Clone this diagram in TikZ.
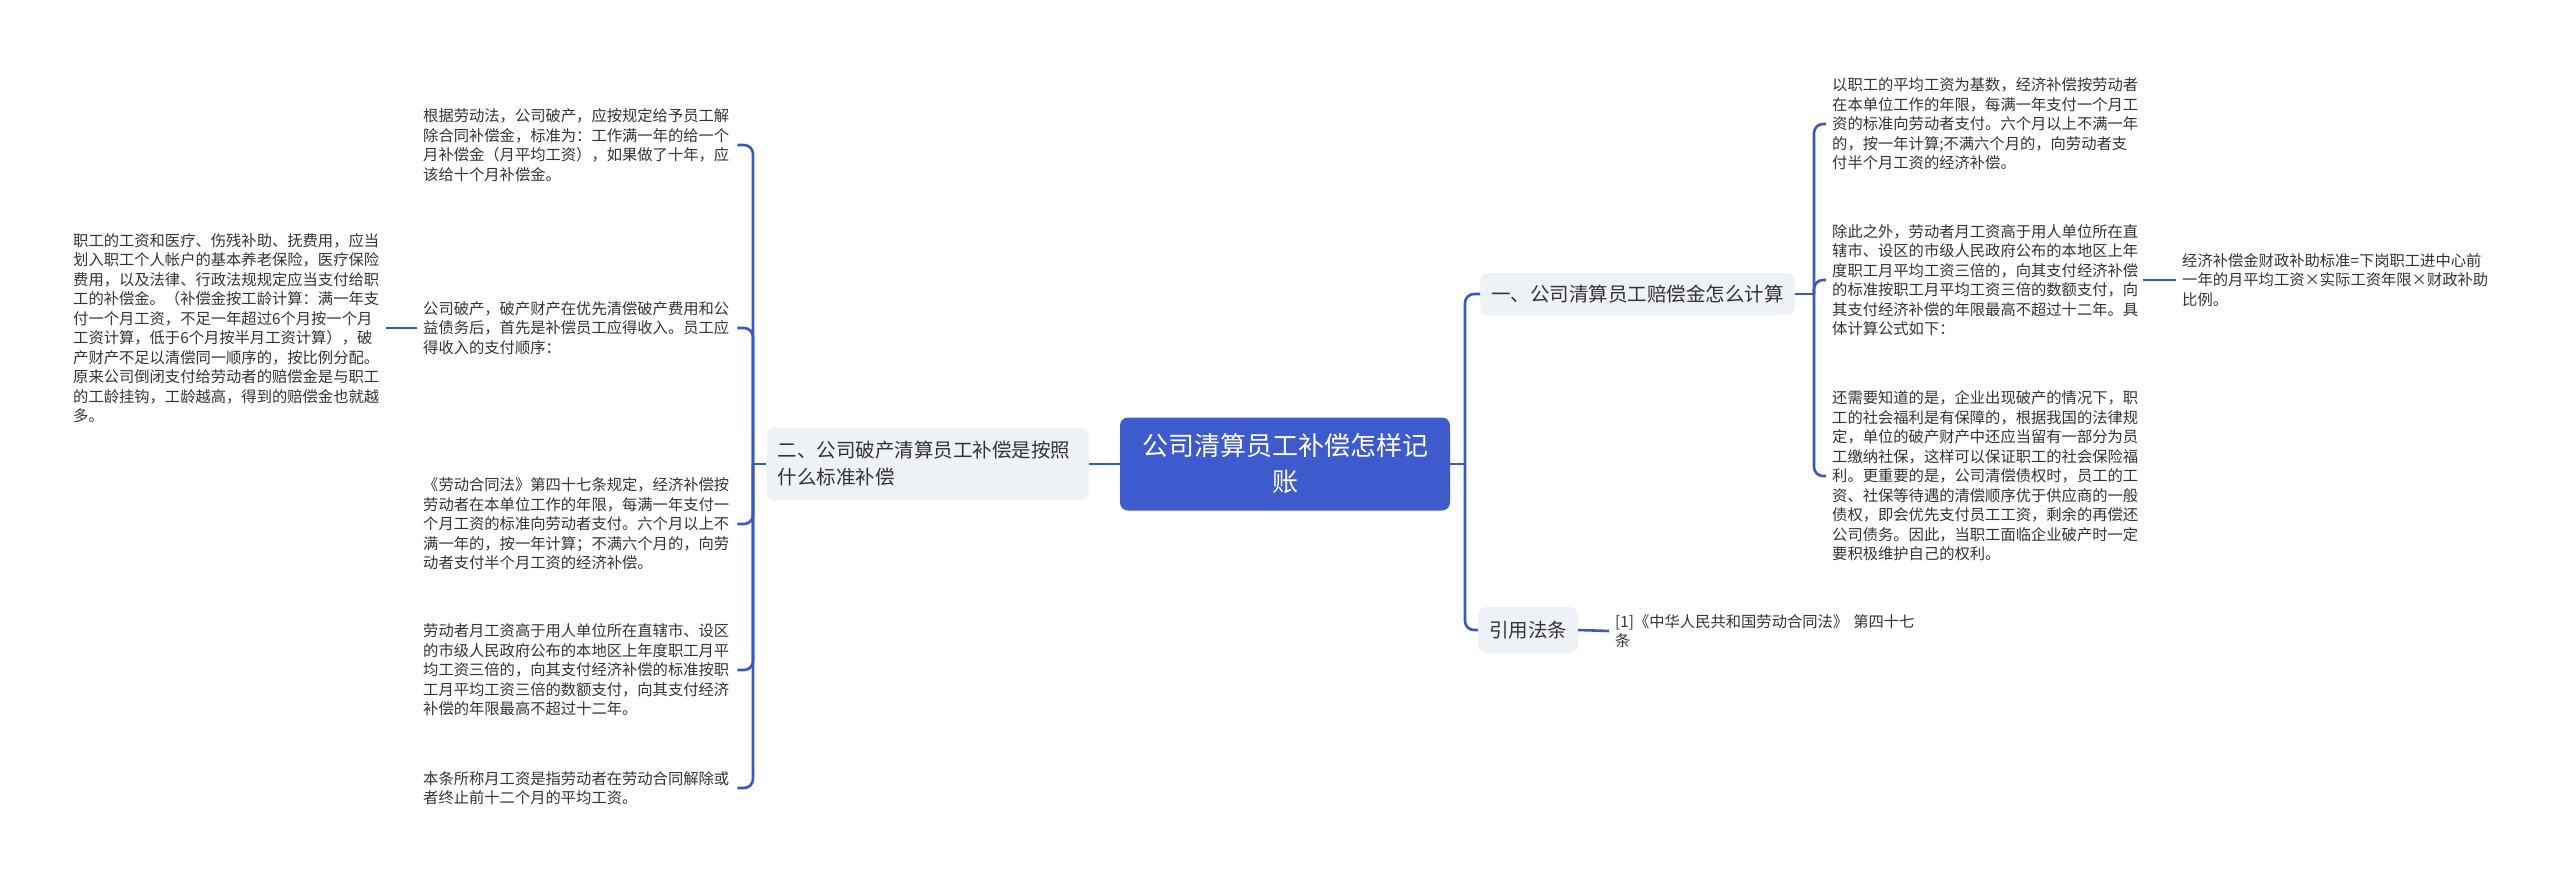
\documentclass[tikz,border=0pt]{standalone}
\usepackage{fontspec}
\newfontfamily\cjk{Noto Sans CJK SC}
\definecolor{lineblue}{HTML}{3A58C5}
\definecolor{rootblue}{HTML}{3D5BCC}
\definecolor{branchgray}{HTML}{EEF1F5}
\definecolor{txt}{HTML}{333333}
\begin{document}
\begin{tikzpicture}[x=1pt,y=-1pt,
  link/.style={draw=lineblue,line width=2.6pt,rounded corners=9pt},
  leaf/.style={anchor=west,align=left,inner xsep=6pt,inner ysep=0pt,text=txt,font=\cjk\fontsize{15.3}{19.5}\selectfont},
  rootbox/.style={fill=rootblue,rounded corners=8pt,text=white,align=center,minimum width=330pt,minimum height=93pt,inner sep=0pt,font=\cjk\fontsize{26}{36}\selectfont},
  branch/.style={fill=branchgray,rounded corners=8pt,text=txt,align=left,inner xsep=11pt,inner ysep=0pt,font=\cjk\fontsize{19.5}{27}\selectfont}]
\fill[white] (0,0) rectangle (2560,880);
\useasboundingbox (0,0) rectangle (2560,880);

% root and branches
\node[rootbox] (root) at (1285,464) {公司清算员工补偿怎样记\\账};
\node[branch,text width=300pt,minimum height=72pt] (L) at (927.5,464) {二、公司破产清算员工补偿是按照\\什么标准补偿};
\node[branch,minimum height=42pt] (R1) at (1637.5,294) {一、公司清算员工赔偿金怎么计算};
\node[branch,minimum height=46pt] (R2) at (1528,630) {引用法条};

% left leaves
\node[leaf,text width=307pt] (l0) at (67,328) {职工的工资和医疗、伤残补助、抚费用，应当\\划入职工个人帐户的基本养老保险，医疗保险\\费用，以及法律、行政法规规定应当支付给职\\工的补偿金。（补偿金按工龄计算：满一年支\\付一个月工资，不足一年超过6个月按一个月\\工资计算，低于6个月按半月工资计算），破\\产财产不足以清偿同一顺序的，按比例分配。\\原来公司倒闭支付给劳动者的赔偿金是与职工\\的工龄挂钩，工龄越高，得到的赔偿金也就越\\多。};
\node[leaf,text width=308pt] (l1) at (417,145) {根据劳动法，公司破产，应按规定给予员工解\\除合同补偿金，标准为：工作满一年的给一个\\月补偿金（月平均工资），如果做了十年，应\\该给十个月补偿金。};
\node[leaf,text width=308pt] (l2) at (417,328) {公司破产，破产财产在优先清偿破产费用和公\\益债务后，首先是补偿员工应得收入。员工应\\得收入的支付顺序：};
\node[leaf,text width=308pt] (l3) at (417,524) {《劳动合同法》第四十七条规定，经济补偿按\\劳动者在本单位工作的年限，每满一年支付一\\个月工资的标准向劳动者支付。六个月以上不\\满一年的，按一年计算；不满六个月的，向劳\\动者支付半个月工资的经济补偿。};
\node[leaf,text width=308pt] (l4) at (417,670) {劳动者月工资高于用人单位所在直辖市、设区\\的市级人民政府公布的本地区上年度职工月平\\均工资三倍的，向其支付经济补偿的标准按职\\工月平均工资三倍的数额支付，向其支付经济\\补偿的年限最高不超过十二年。};
\node[leaf,text width=308pt] (l5) at (417,788) {本条所称月工资是指劳动者在劳动合同解除或\\者终止前十二个月的平均工资。};

% right leaves
\node[leaf,text width=305pt] (r1a) at (1826,124) {以职工的平均工资为基数，经济补偿按劳动者\\在本单位工作的年限，每满一年支付一个月工\\资的标准向劳动者支付。六个月以上不满一年\\的，按一年计算;不满六个月的，向劳动者支\\付半个月工资的经济补偿。};
\node[leaf,text width=305pt] (r1b) at (1826,280) {除此之外，劳动者月工资高于用人单位所在直\\辖市、设区的市级人民政府公布的本地区上年\\度职工月平均工资三倍的，向其支付经济补偿\\的标准按职工月平均工资三倍的数额支付，向\\其支付经济补偿的年限最高不超过十二年。具\\体计算公式如下：};
\node[leaf,text width=305pt] (r1c) at (1826,476) {还需要知道的是，企业出现破产的情况下，职\\工的社会福利是有保障的，根据我国的法律规\\定，单位的破产财产中还应当留有一部分为员\\工缴纳社保，这样可以保证职工的社会保险福\\利。更重要的是，公司清偿债权时，员工的工\\资、社保等待遇的清偿顺序优于供应商的一般\\债权，即会优先支付员工工资，剩余的再偿还\\公司债务。因此，当职工面临企业破产时一定\\要积极维护自己的权利。};
\node[leaf,text width=306pt] (f) at (2176,280) {经济补偿金财政补助标准=下岗职工进中心前\\一年的月平均工资×实际工资年限×财政补助\\比例。};
\node[leaf,text width=305pt] (c1) at (1609,631) {[1]《中华人民共和国劳动合同法》 第四十七\\条};

% connectors
\coordinate (lf) at (753,464);
\coordinate (rf) at (1465,464);
\coordinate (r1f) at (1814,294);
\draw[link] (root.west) -- (L.east);
\draw[link] (L.west) -- (lf);
\foreach \n in {l1,l2,l3,l4,l5} \draw[link] (lf) |- (\n.east);
\draw[link] (l0.east) -- (l2.west);
\draw[link] (root.east) -- (rf);
\draw[link] (rf) |- (R1.west);
\draw[link] (rf) |- (R2.west);
\draw[link] (R1.east) -- (r1f);
\foreach \n in {r1a,r1b,r1c} \draw[link] (r1f) |- (\n.west);
\draw[link] (r1b.east) -- (f.west);
\draw[link] (R2.east) -- (c1.west);
\end{tikzpicture}
\end{document}
